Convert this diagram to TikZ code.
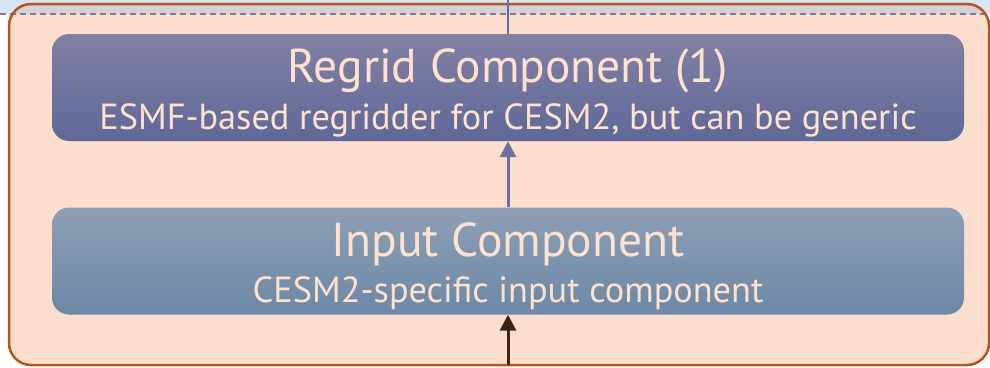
\documentclass[tikz,border=0pt]{standalone}
\usepackage{fontspec}
\setmainfont{PT Sans}
\usetikzlibrary{arrows.meta}
\definecolor{bandblue}{HTML}{8EB6E1}
\definecolor{peach}{HTML}{FBDECD}
\definecolor{rust}{HTML}{B5561E}
\definecolor{dashgray}{HTML}{807C98}
\definecolor{regtop}{HTML}{8280A4}
\definecolor{regbot}{HTML}{5F6898}
\definecolor{inptop}{HTML}{8E9FB5}
\definecolor{inpbot}{HTML}{6C88A5}
\definecolor{txtpeach}{HTML}{FDE2CF}
\definecolor{linkblue}{HTML}{5A6EB0}
\definecolor{arrowblue}{HTML}{6C70A2}
\definecolor{arrowbrown}{HTML}{3B2414}
\tikzset{
  compbox/.style={draw=none, rounded corners=17pt, minimum width=912pt, minimum height=107pt, inner sep=0pt},
  titletxt/.style={text=txtpeach, font=\fontsize{47.5}{52}\selectfont, anchor=base, inner sep=0pt},
  subtxt/.style={text=txtpeach, font=\fontsize{36.3}{40}\selectfont, anchor=base, inner sep=0pt},
  flowarrow/.style={line width=3pt, -{Triangle[width=16pt,length=16pt]}}
}
\begin{document}
\begin{tikzpicture}[x=1pt,y=-1pt]
\useasboundingbox (0,0) rectangle (990,367);
\fill[white] (0,0) rectangle (990,367);
% outer container fill
\fill[peach] [rounded corners=22pt] (9,4) rectangle (989,365);
% top band
\fill[bandblue, opacity=0.35] (0,0) rectangle (990,14);
\draw[dashgray, line width=1.8pt, dash pattern=on 6pt off 4pt] (0,14) -- (990,14);
% outer border
\draw[rust, line width=2.5pt, rounded corners=22pt] (9,4) rectangle (989,365);
% boxes
\node[compbox, top color=regtop, bottom color=regbot] (regrid) at (508,87.5) {};
\node[compbox, top color=inptop, bottom color=inpbot] (input) at (508,261) {};
\node[titletxt] (regtitle) at (508,82) {Regrid Component (1)};
\node[subtxt] (regsub) at (508,129) {ESMF-based regridder for CESM2, but can be generic};
\node[titletxt] (inptitle) at (508,256) {Input Component};
\node[subtxt] (inpsub) at (508,302) {CESM2-specific input component};
% connectors
\coordinate (topend) at (508,0);
\coordinate (botend) at (508,365);
\draw[linkblue, line width=2.5pt] (regrid.north) -- (topend);
\draw[flowarrow, arrowblue] (input.north) -- (regrid.south);
\draw[flowarrow, arrowbrown] (botend) -- (input.south);
\end{tikzpicture}
\end{document}
